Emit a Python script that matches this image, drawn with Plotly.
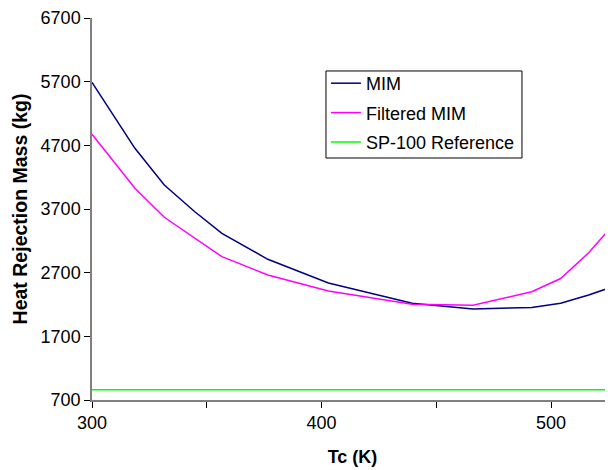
import plotly.graph_objects as go

tc = [300, 318.7, 331.5, 344.8, 356.6, 376.6, 403, 439.5, 466, 491.6, 504.2, 516.4, 527]
mim = [5690, 4653, 4077, 3657, 3318, 2910, 2538, 2219, 2129, 2153, 2219, 2349, 2480]
filtered_mim = [4873, 4025, 3570, 3240, 2951, 2663, 2412, 2203, 2187, 2401, 2608, 3013, 3449]
sp100 = [860] * len(tc)

x_ticks = [300, 350, 400, 450, 500]
x_ticklabels = ["300", "", "400", "", "500"]
y_ticks = [700, 1700, 2700, 3700, 4700, 5700, 6700]

font = "Liberation Sans, Arial, sans-serif"

fig = go.Figure()
fig.add_trace(go.Scatter(x=tc, y=mim, mode="lines", name="MIM",
                         line=dict(color="#000080", width=1.5), legendgroup="a"))
fig.add_trace(go.Scatter(x=tc, y=filtered_mim, mode="lines", name="Filtered MIM",
                         line=dict(color="#FF00FF", width=1.5), legendgroup="b"))
fig.add_trace(go.Scatter(x=tc, y=sp100, mode="lines", name="SP-100 Reference",
                         line=dict(color="#00FF00", width=1.5), legendgroup="c"))

# page body has an 8px margin; compensate so the plot area lands where the reference has it
fig.update_layout(
    width=605, height=462,
    margin=dict(l=84, r=0, t=10, b=70),
    paper_bgcolor="white", plot_bgcolor="white",
    font=dict(family=font, size=18, color="black"),
    showlegend=True,
    legend=dict(x=0.449, y=0.877, xanchor="left", yanchor="top",
                borderwidth=0, bgcolor="rgba(0,0,0,0)",
                font=dict(family=font, size=18, color="black"),
                tracegroupgap=3, traceorder="grouped"),
    shapes=[dict(type="rect", xref="paper", yref="paper",
                 x0=0.4491, x1=0.8253, y0=0.6335, y1=0.8613,
                 line=dict(color="black", width=1), fillcolor="white", layer="below")],
    xaxis=dict(range=[300, 527], tickmode="array", tickvals=x_ticks, ticktext=x_ticklabels,
               ticks="outside", ticklen=6, tickcolor="black", showline=True,
               linecolor="#808080", linewidth=1.5, showgrid=False, zeroline=False,
               title=dict(text="<b>Tc (K)</b>", font=dict(size=18), standoff=18),
               tickfont=dict(size=18)),
    yaxis=dict(range=[700, 6700], tickmode="array", tickvals=y_ticks,
               ticks="outside", ticklen=6, tickcolor="black", showline=True,
               linecolor="#808080", linewidth=1.5, showgrid=False, zeroline=False,
               title=dict(text="<b>Heat Rejection Mass (kg)</b>", font=dict(size=19.5), standoff=8),
               tickfont=dict(size=18)),
)

fig.write_html("out.html")
